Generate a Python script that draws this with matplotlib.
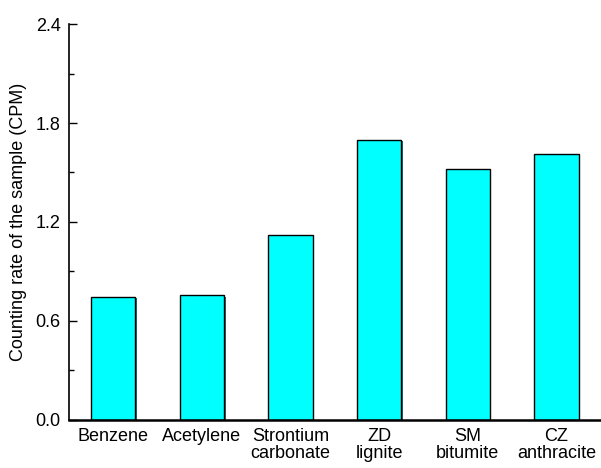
import matplotlib
matplotlib.use("Agg")
import matplotlib.pyplot as plt
import matplotlib.patheffects as pe
from matplotlib.ticker import MultipleLocator, FormatStrFormatter

plt.rcParams["font.family"] = ["Liberation Sans", "DejaVu Sans"]

# data
samples = ["Benzene", "Acetylene", "Strontium\ncarbonate", "ZD\nlignite",
           "SM\nbitumite", "CZ\nanthracite"]
cpm = [0.747, 0.755, 1.121, 1.697, 1.519, 1.614]

fig = plt.figure(figsize=(6.01, 4.68), dpi=100)
ax = fig.add_axes([0.1148, 0.1026, 0.885, 0.8461])

bars = ax.bar(range(len(samples)), cpm, width=0.5, color="#00FFFF",
              edgecolor="black", linewidth=1.0)
for b in bars:
    b.set_path_effects([pe.SimplePatchShadow(offset=(1.0, -1.0),
                                             shadow_rgbFace="#2E6B6B", alpha=1.0),
                        pe.Normal()])

ax.set_xlim(-0.5, 5.5)
ax.set_ylim(0, 2.4)
ax.yaxis.set_major_locator(MultipleLocator(0.6))
ax.yaxis.set_minor_locator(MultipleLocator(0.3))
ax.yaxis.set_major_formatter(FormatStrFormatter("%.1f"))
ax.set_xticks(range(len(samples)))
ax.set_xticklabels(samples, fontsize=13, linespacing=1.0)
ax.tick_params(axis="x", length=0, pad=6)
ax.tick_params(axis="y", which="major", direction="in", length=6, width=1,
               labelsize=13, pad=6)
ax.tick_params(axis="y", which="minor", direction="in", length=3.5, width=1)
ax.set_ylabel("Counting rate of the sample (CPM)", fontsize=13, labelpad=6)

ax.spines["top"].set_visible(False)
ax.spines["right"].set_visible(False)
ax.spines["left"].set_linewidth(1.2)
ax.spines["bottom"].set_linewidth(1.8)

fig.savefig("out.png", dpi=100)
